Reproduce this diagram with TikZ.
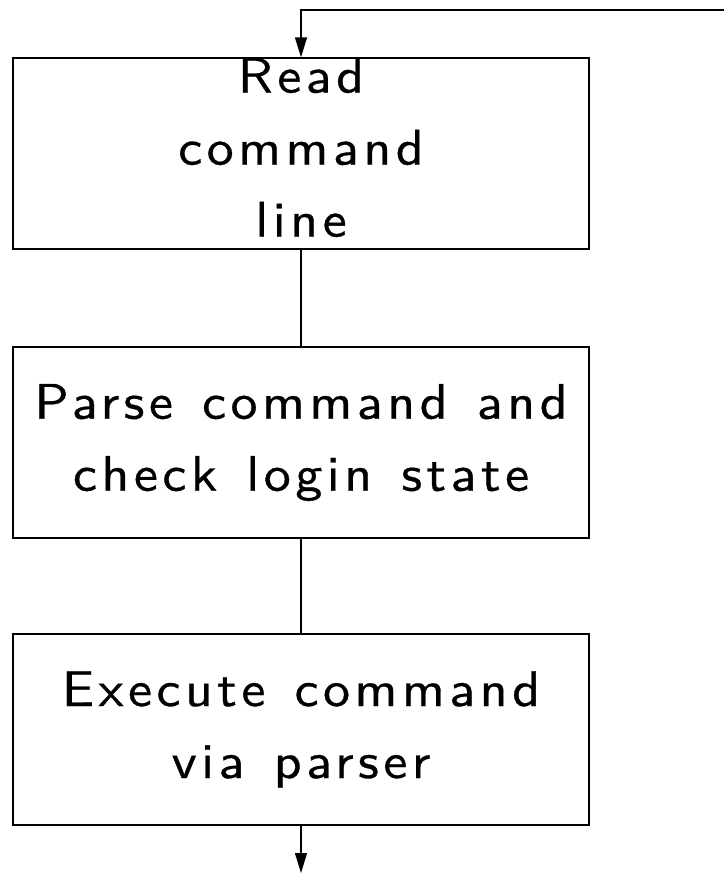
\documentclass[tikz,border=0pt]{standalone}
\usepackage{fontspec}
\newfontfamily\boxfont{lmsans10-regular.otf}[FakeStretch=1.08,LetterSpace=9,WordSpace=1.3,FakeBold=0.6]
\usetikzlibrary{arrows.meta}
\begin{document}
\begin{tikzpicture}[x=0.5pt,y=-0.5pt,
  stepbox/.style={draw,line width=0.65pt,minimum width=288pt,minimum height=95.5pt,inner sep=0pt},
  steptext/.style={align=center,inner sep=0pt,
    font=\boxfont\fontsize{25}{36}\selectfont},
  flow/.style={line width=0.65pt,-{Triangle[length=10pt,width=6pt]}},
  link/.style={line width=0.65pt}]
\useasboundingbox (0,0) rectangle (724,873);
% process boxes
\node[stepbox] (b1) at (301,153.5) {};
\node[stepbox] (b2) at (301,442.5) {};
\node[stepbox] (b3) at (301,729.5) {};
% box labels
\node[steptext] (t1) at ([yshift=3pt]b1.center) {Read\\command\\line};
\node[steptext] (t2) at (b2.center) {Parse command and\\check login state};
\node[steptext] (t3) at (b3.center) {Execute command\\via parser};
% connectors
\coordinate (loopin) at (724,10);
\coordinate (exit) at (301,873);
\draw[flow] (loopin) -| (b1.north);
\draw[link] (b1.south) -- (b2.north);
\draw[link] (b2.south) -- (b3.north);
\draw[flow] (b3.south) -- (exit);
\end{tikzpicture}
\end{document}
